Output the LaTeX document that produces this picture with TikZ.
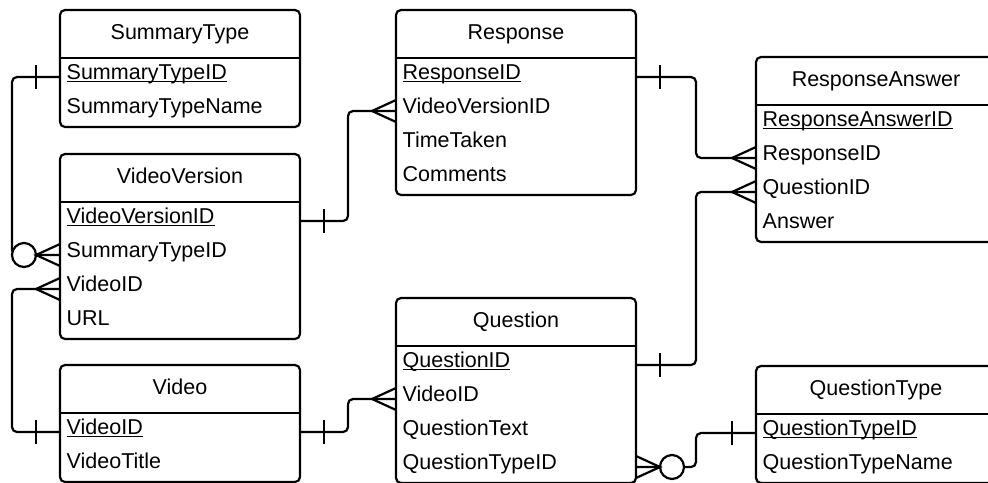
\documentclass[tikz,border=0pt]{standalone}
\usepackage{fontspec}
\setmainfont{Liberation Sans}
\usetikzlibrary{calc}
\newcommand\erfont{\fontsize{21.5pt}{25pt}\selectfont}
\newcommand\ulfield[1]{\setbox0\hbox{#1}\rlap{\rule[-3.3pt]{\wd0}{1.6pt}}\box0}
\tikzset{
  tbox/.style={draw, line width=2.2pt, rounded corners=5pt, anchor=north west, minimum width=240pt, inner sep=0pt, outer sep=0pt},
  hdr/.style={anchor=base, inner sep=0pt, font=\erfont},
  fld/.style={anchor=west, inner sep=0pt, text height=12pt, text depth=8pt, font=\erfont},
  conn/.style={line width=2.2pt, rounded corners=5pt},
  endln/.style={line width=2.2pt},
  crowL/.pic={\draw[endln] (0,-11) -- (-24,0) -- (0,11);},
  crowR/.pic={\draw[endln] (0,-11) -- (24,0) -- (0,11);},
  tickL/.pic={\draw[endln] (-24,-12) -- (-24,12);},
  tickR/.pic={\draw[endln] (24,-12) -- (24,12);},
}
\begin{document}
\begin{tikzpicture}[x=1pt,y=-1pt]
\useasboundingbox (0,0) rectangle (988,482);
\clip (0,0) rectangle (988,482);

% SummaryType
\node[tbox, minimum height=117pt] (st) at (60,10) {};
\draw[endln] ($(st.north west)+(0,48)$) -- ($(st.north east)+(0,48)$);
\node[hdr] (st-h) at ($(st.north)+(0,29)$) {SummaryType};
\node[fld] (st-1) at ($(st.north west)+(6.5,67)$) {\ulfield{SummaryTypeID}};
\node[fld] (st-2) at ($(st.north west)+(6.5,101)$) {SummaryTypeName};

% VideoVersion
\node[tbox, minimum height=185pt] (vv) at (60,154) {};
\draw[endln] ($(vv.north west)+(0,48)$) -- ($(vv.north east)+(0,48)$);
\node[hdr] (vv-h) at ($(vv.north)+(0,29)$) {VideoVersion};
\node[fld] (vv-1) at ($(vv.north west)+(6.5,67)$) {\ulfield{VideoVersionID}};
\node[fld] (vv-2) at ($(vv.north west)+(6.5,101)$) {SummaryTypeID};
\node[fld] (vv-3) at ($(vv.north west)+(6.5,135)$) {VideoID};
\node[fld] (vv-4) at ($(vv.north west)+(6.5,169)$) {URL};

% Video
\node[tbox, minimum height=117pt] (vid) at (60,365) {};
\draw[endln] ($(vid.north west)+(0,48)$) -- ($(vid.north east)+(0,48)$);
\node[hdr] (vid-h) at ($(vid.north)+(0,29)$) {Video};
\node[fld] (vid-1) at ($(vid.north west)+(6.5,67)$) {\ulfield{VideoID}};
\node[fld] (vid-2) at ($(vid.north west)+(6.5,101)$) {VideoTitle};

% Response
\node[tbox, minimum height=185pt] (resp) at (396,10) {};
\draw[endln] ($(resp.north west)+(0,48)$) -- ($(resp.north east)+(0,48)$);
\node[hdr] (resp-h) at ($(resp.north)+(0,29)$) {Response};
\node[fld] (resp-1) at ($(resp.north west)+(6.5,67)$) {\ulfield{ResponseID}};
\node[fld] (resp-2) at ($(resp.north west)+(6.5,101)$) {VideoVersionID};
\node[fld] (resp-3) at ($(resp.north west)+(6.5,135)$) {TimeTaken};
\node[fld] (resp-4) at ($(resp.north west)+(6.5,169)$) {Comments};

% Question
\node[tbox, minimum height=185pt] (q) at (396,298) {};
\draw[endln] ($(q.north west)+(0,48)$) -- ($(q.north east)+(0,48)$);
\node[hdr] (q-h) at ($(q.north)+(0,29)$) {Question};
\node[fld] (q-1) at ($(q.north west)+(6.5,67)$) {\ulfield{QuestionID}};
\node[fld] (q-2) at ($(q.north west)+(6.5,101)$) {VideoID};
\node[fld] (q-3) at ($(q.north west)+(6.5,135)$) {QuestionText};
\node[fld] (q-4) at ($(q.north west)+(6.5,169)$) {QuestionTypeID};

% ResponseAnswer
\node[tbox, minimum height=185pt] (ra) at (756,57) {};
\draw[endln] ($(ra.north west)+(0,48)$) -- ($(ra.north east)+(0,48)$);
\node[hdr] (ra-h) at ($(ra.north)+(0,29)$) {ResponseAnswer};
\node[fld] (ra-1) at ($(ra.north west)+(6.5,67)$) {\ulfield{ResponseAnswerID}};
\node[fld] (ra-2) at ($(ra.north west)+(6.5,101)$) {ResponseID};
\node[fld] (ra-3) at ($(ra.north west)+(6.5,135)$) {QuestionID};
\node[fld] (ra-4) at ($(ra.north west)+(6.5,169)$) {Answer};

% QuestionType
\node[tbox, minimum height=117pt] (qt) at (756,366) {};
\draw[endln] ($(qt.north west)+(0,48)$) -- ($(qt.north east)+(0,48)$);
\node[hdr] (qt-h) at ($(qt.north)+(0,29)$) {QuestionType};
\node[fld] (qt-1) at ($(qt.north west)+(6.5,67)$) {\ulfield{QuestionTypeID}};
\node[fld] (qt-2) at ($(qt.north west)+(6.5,101)$) {QuestionTypeName};

% SummaryType -> VideoVersion (one to zero-or-many)
\draw[conn] (st.west |- st-1) -| ($(vv.west |- vv-2)+(-48,0)$) -- (vv.west |- vv-2);
\pic at (st.west |- st-1) {tickL};
\draw[endln, fill=white] ($(vv.west |- vv-2)+(-36,0)$) circle[radius=12pt];
\pic at (vv.west |- vv-2) {crowL};

% Video -> VideoVersion
\draw[conn] (vv.west |- vv-3) -| ($(vid.west |- vid-1)+(-48,0)$) -- (vid.west |- vid-1);
\pic at (vv.west |- vv-3) {crowL};
\pic at (vid.west |- vid-1) {tickL};

% VideoVersion -> Response
\draw[conn] (vv.east |- vv-1) -| ($(resp.west |- resp-2)+(-48,0)$) -- (resp.west |- resp-2);
\pic at (vv.east |- vv-1) {tickR};
\pic at (resp.west |- resp-2) {crowL};

% Response -> ResponseAnswer
\draw[conn] (resp.east |- resp-1) -| ($(ra.west |- ra-2)+(-60,0)$) -- (ra.west |- ra-2);
\pic at (resp.east |- resp-1) {tickR};
\pic at (ra.west |- ra-2) {crowL};

% Question -> ResponseAnswer
\draw[conn] (q.east |- q-1) -| ($(ra.west |- ra-3)+(-60,0)$) -- (ra.west |- ra-3);
\pic at (q.east |- q-1) {tickR};
\pic at (ra.west |- ra-3) {crowL};

% Video -> Question
\draw[conn] (vid.east |- vid-1) -| ($(q.west |- q-2)+(-48,0)$) -- (q.west |- q-2);
\pic at (vid.east |- vid-1) {tickR};
\pic at (q.west |- q-2) {crowL};

% QuestionType -> Question (one to zero-or-many)
\draw[conn] (q.east |- q-4) -| ($(qt.west |- qt-1)+(-60,0)$) -- (qt.west |- qt-1);
\draw[endln, fill=white] ($(q.east |- q-4)+(36,0)$) circle[radius=12pt];
\pic at (q.east |- q-4) {crowR};
\pic at (qt.west |- qt-1) {tickL};
\end{tikzpicture}
\end{document}
